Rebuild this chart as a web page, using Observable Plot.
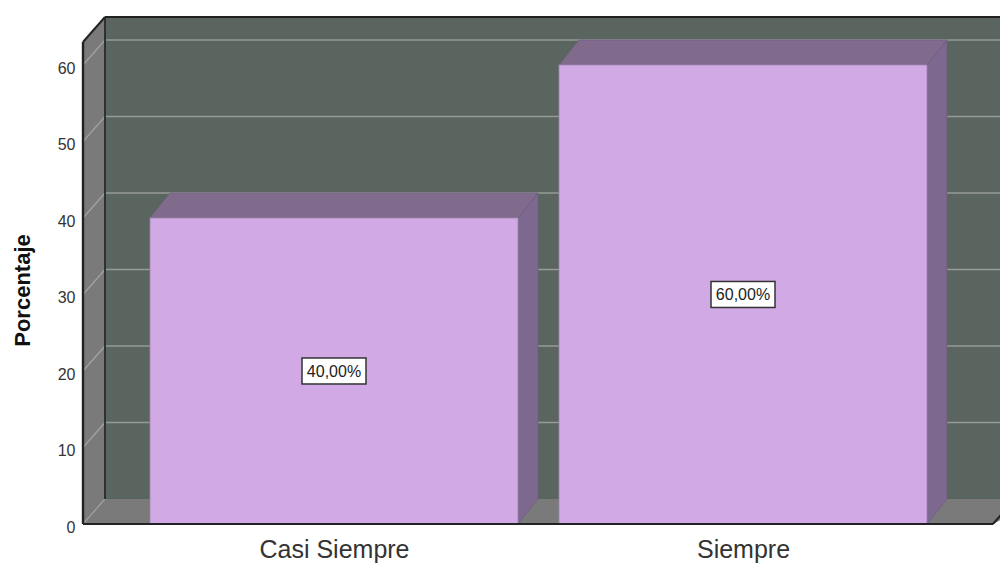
<!DOCTYPE html>
<html><head><meta charset="utf-8">
<script src="https://cdn.jsdelivr.net/npm/d3@7"></script>
<script src="https://cdn.jsdelivr.net/npm/@observablehq/plot@0.6"></script>
<style>body{margin:0;background:#fff;overflow:hidden}</style>
</head><body><div id="chart"></div>
<script>
const categories = ["Casi Siempre", "Siempre"];
const percentages = [40, 60];
const valueLabels = ["40,00%", "60,00%"];
const yTicks = [0, 10, 20, 30, 40, 50, 60];
const yMax = 63;
const yTitle = "Porcentaje";

const data = categories.map((c, i) => ({category: c, pct: percentages[i], label: valueLabels[i]}));

const WALL = {dx: 22, dy: -25};
const BAR = {dx: 20, dy: -25};
const NS = "http://www.w3.org/2000/svg";
function el(tag, attrs) { const e = document.createElementNS(NS, tag); for (const k in attrs) e.setAttribute(k, attrs[k]); return e; }
function poly(pts, attrs) { return el("polygon", {points: pts.map(p => p.join(",")).join(" "), ...attrs}); }
function line(a, b, attrs) { return el("line", {x1: a[0], y1: a[1], x2: b[0], y2: b[1], ...attrs}); }
function bw(x) {
  if (typeof x.bandwidth === "function") return x.bandwidth();
  if (typeof x.bandwidth === "number") return x.bandwidth;
  return (x(categories[1]) - x(categories[0])) * 0.9;
}

function walls(index, scales, values, dim) {
  const g = el("g", {});
  const y = scales.y;
  const x0 = dim.marginLeft, x1 = dim.width - 7, xr = dim.width + 40;
  const yb = y(0), yt = y(yMax);
  const {dx, dy} = WALL;
  g.append(poly([[x0 + dx, yt + dy], [xr, yt + dy], [xr, yb + dy], [x0 + dx, yb + dy]], {fill: "#5b6560"}));
  g.append(poly([[x0, yt], [x0 + dx, yt + dy], [x0 + dx, yb + dy], [x0, yb]], {fill: "#7a7a7a"}));
  g.append(poly([[x0, yb], [x0 + dx, yb + dy], [xr, yb + dy], [x1, yb]], {fill: "#7a7a7a"}));
  for (const t of yTicks) {
    if (t === 0) continue;
    const yy = y(t);
    g.append(line([x0 + dx, yy + dy], [xr, yy + dy], {stroke: "#959b97", "stroke-width": 1.6}));
    g.append(line([x0, yy], [x0 + dx, yy + dy], {stroke: "#a2a2a2", "stroke-width": 1.3}));
  }
  g.append(line([x0, yb], [x0 + dx, yb + dy], {stroke: "#a0a0a0", "stroke-width": 1.2}));
  return g;
}

function barSides(index, scales, values, dim) {
  const g = el("g", {});
  const x = scales.x, y = scales.y, w = bw(x);
  const {dx, dy} = BAR;
  for (const d of data) {
    const xa = x(d.category), xb = xa + w, yt = y(d.pct), yb = y(0);
    g.append(poly([[xb, yt], [xb + dx, yt + dy], [xb + dx, yb + dy], [xb, yb]], {fill: "#7d6990", stroke: "#6f5d80", "stroke-width": 0.6}));
    g.append(poly([[xa, yt], [xa + dx, yt + dy], [xb + dx, yt + dy], [xb, yt]], {fill: "#806b8d", stroke: "#6f5d80", "stroke-width": 0.6}));
  }
  return g;
}

function edges(index, scales, values, dim) {
  const g = el("g", {});
  const y = scales.y;
  const x0 = dim.marginLeft, x1 = dim.width - 7, xr = dim.width + 40;
  const yb = y(0), yt = y(yMax);
  const {dx, dy} = WALL;
  const dark = {stroke: "#222", "stroke-width": 2};
  g.append(line([x0 + dx, yt + dy], [x0 + dx, yb + dy], {stroke: "#2a2a2a", "stroke-width": 1.8}));
  g.append(line([x0, yt], [x0 + dx, yt + dy], dark));
  g.append(line([x0 + dx, yt + dy], [xr, yt + dy], dark));
  g.append(line([x0, yt], [x0, yb], {stroke: "#222", "stroke-width": 2.4}));
  g.append(line([x0, yb], [x1, yb], dark));
  g.append(line([x1, yb], [x1 + dx, yb + dy], dark));
  return g;
}

function valueBoxes(index, scales, values, dim) {
  const g = el("g", {});
  const x = scales.x, y = scales.y, w = bw(x);
  for (const d of data) {
    const cx = x(d.category) + w / 2, cy = y(d.pct / 2);
    g.append(el("rect", {x: cx - 32, y: cy - 13, width: 64, height: 26, fill: "#fff", stroke: "#333", "stroke-width": 1.5}));
    const t = el("text", {x: cx, y: cy, "text-anchor": "middle", dy: "0.35em", "font-size": 16, fill: "#222"});
    t.textContent = d.label;
    g.append(t);
  }
  return g;
}

const chart = Plot.plot({
  width: 1000, height: 563,
  marginLeft: 83, marginRight: 5, marginTop: 42, marginBottom: 39,
  style: {fontFamily: "'Liberation Sans', Arial, sans-serif", background: "#fff", overflow: "visible"},
  x: {domain: categories, paddingInner: 0.1, paddingOuter: 0.1635, label: null},
  y: {domain: [0, yMax], label: null},
  marks: [
    walls,
    barSides,
    Plot.barY(data, {x: "category", y: "pct", fill: "#d1aae5", stroke: "#9b84ab", strokeWidth: 0.8}),
    edges,
    valueBoxes,
    Plot.axisY({ticks: yTicks, tickSize: 0, tickPadding: 8, fontSize: 16, fill: "#333", label: null, dy: 3}),
    Plot.axisX({tickSize: 0, tickPadding: 16, fontSize: 25, fill: "#333", label: null}),
    Plot.text([yTitle], {frameAnchor: "left", dx: -61, dy: 7, rotate: -90, textAnchor: "middle", fontSize: 22, fontWeight: "bold", fill: "#111"})
  ]
});
document.getElementById("chart").append(chart);
</script>
</body></html>
